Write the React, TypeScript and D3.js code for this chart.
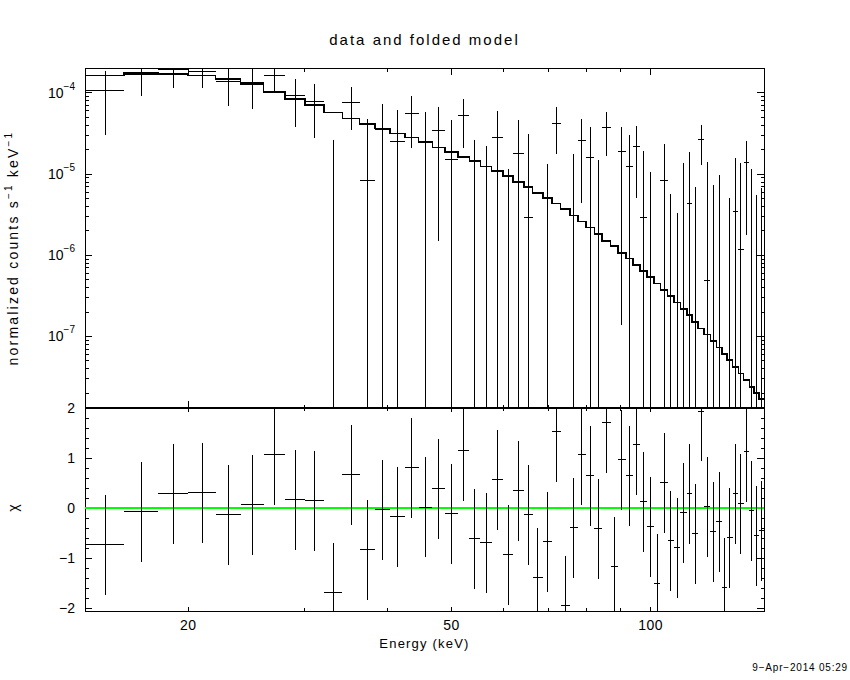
import React from "react";
import * as d3 from "d3";

// energy bin edges (keV), 59 bins
const binEdges = [
  14.0, 16.0, 18.0, 20.0, 22.0, 24.0, 26.0, 28.0, 30.0, 32.1, 34.2, 36.3, 38.3, 40.4, 42.5,
  44.6, 46.8, 48.9, 51.1, 53.2, 55.3, 57.5, 59.8, 62.0, 64.3, 66.3, 68.7, 70.9, 73.1, 75.5,
  77.6, 79.9, 82.2, 84.5, 87.0, 89.2, 91.7, 94.0, 96.3, 98.7, 101.2, 103.5, 106.1, 108.4,
  110.9, 113.4, 115.6, 118.0, 120.5, 123.1, 125.7, 128.3, 130.6, 133.0, 135.7, 138.2, 141.0,
  143.4, 145.8, 148.4,
];

// folded model, in units of 1e-4 counts s^-1 keV^-1
const modelRate = [
  1.65, 1.75, 1.71, 1.65, 1.48, 1.28, 1.03, 0.836, 0.706, 0.572, 0.483, 0.415, 0.363, 0.315,
  0.2815, 0.247, 0.212, 0.1876, 0.1614, 0.144, 0.1237, 0.1095, 0.0942, 0.0802, 0.069, 0.0587,
  0.0509, 0.0433, 0.037, 0.0308, 0.026, 0.0219, 0.0182, 0.01504, 0.01294, 0.01071, 0.00911,
  0.00755, 0.00637, 0.00537, 0.00448, 0.003715, 0.00313, 0.002616, 0.002168, 0.001828,
  0.001513, 0.001251, 0.001055, 0.000883, 0.00073, 0.000605, 0.00051, 0.000422, 0.000349,
  0.00029, 0.000239, 0.000202, 0.000169,
];

// data, same units
const dataRate = [
  1.08, 1.7, 1.93, 1.86, 1.39, 1.33, 1.65, 0.93, 0.78, -0.189, 0.77, 0.0825, 0.352, 0.254,
  0.562, 0.254, 0.345, 0.153, 0.531, -0.045, -0.09, 0.2847, -0.1755, 0.182, 0.0294, -0.317,
  -0.1166, 0.4236, -0.431, -0.0628, 0.2616, 0.1614, -0.0741, 0.378, -0.233, 0.1914, 0.1251,
  0.2207, 0.0289, -0.0538, -0.237, 0.0825, -0.097, -0.109, -0.0112, 0.0438, -0.0694, 0.269,
  0.00493, -0.063, -0.0352, -0.206, -0.0727, 0.0349, 0.0119, 0.1386, -0.0059, -0.0669, -0.055,
];

const dataErr = [
  0.78, 0.77, 0.77, 0.7, 0.7, 0.7, 0.58, 0.55, 0.5, 0.45, 0.42, 0.4, 0.37, 0.37, 0.35, 0.335,
  0.33, 0.316, 0.32, 0.31, 0.31, 0.31, 0.29, 0.283, 0.283, 0.27, 0.25, 0.245, 0.24, 0.24,
  0.217, 0.22, 0.225, 0.212, 0.21, 0.19, 0.179, 0.17, 0.164, 0.16, 0.16, 0.153, 0.154, 0.142,
  0.1486, 0.145, 0.139, 0.138, 0.1377, 0.136, 0.133, 0.13, 0.124, 0.1236, 0.1255, 0.121,
  0.1229, 0.122, 0.1226,
];

// residuals (chi), error bars are +-1
const chiValues = [
  -0.73, -0.07, 0.29, 0.31, -0.13, 0.07, 1.07, 0.17, 0.15, -1.69, 0.67, -0.83, -0.03, -0.17,
  0.81, 0.02, 0.39, -0.11, 1.15, -0.61, -0.69, 0.57, -0.93, 0.35, -0.13, -1.39, -0.67, 1.53,
  -1.95, -0.39, 1.07, 0.65, -0.41, 1.71, -1.17, 0.97, 0.65, 1.27, 0.13, -0.37, -1.51, 0.51,
  -0.65, -0.79, -0.09, 0.29, -0.51, 1.94, 0.03, -0.47, -0.27, -1.59, -0.59, 0.29, 0.09, 1.13,
  -0.05, -0.55, -0.45,
];

const xMajorTicks = [20, 50, 100];
const xMinorTicks = [30, 40, 60, 70, 80, 90];
const yMajorExp = [-4, -5, -6, -7];
const chiLabels = [2, 1, 0, -1, -2];

const UNIT = 1e-4;
const left = 85;
const right = 764;
const top = 68;
const mid = 408;
const bottom = 611;
const font = "'Liberation Sans', Arial, sans-serif";
const minus = (v: number) => (v < 0 ? "\u2212" + Math.abs(v) : String(v));

export default function App() {
  const x = d3.scaleLog().domain([13.96, 148.4]).range([left, right]);
  const y = d3.scaleLog().domain([1.315e-8, 2.03e-4]).range([mid, top]);
  const yChi = d3.scaleLinear().domain([-2.06, 2.0]).range([bottom, mid]);
  const [yMin, yMax] = y.domain();
  const [cMin, cMax] = yChi.domain();

  const bins = modelRate.map((m, i) => ({
    lo: binEdges[i],
    hi: binEdges[i + 1],
    c: (binEdges[i] + binEdges[i + 1]) / 2,
    model: m * UNIT,
    value: dataRate[i] * UNIT,
    err: dataErr[i] * UNIT,
    chi: chiValues[i],
  }));

  const modelPath = d3
    .line<[number, number]>()
    .x((d) => x(d[0]))
    .y((d) => y(d[1]))(
    bins.flatMap((b) => [
      [b.lo, b.model],
      [b.hi, b.model],
    ]) as [number, number][]
  );

  const yMinor = d3
    .range(-8, -3)
    .flatMap((e) => d3.range(2, 10).map((k) => k * Math.pow(10, e)))
    .filter((v) => v > yMin && v < yMax);
  const chiSteps = d3.range(-10, 11).map((k) => k / 5);

  const ticks: JSX.Element[] = [];
  let key = 0;
  const tick = (x1: number, y1: number, x2: number, y2: number) =>
    ticks.push(<line key={key++} x1={x1} y1={y1} x2={x2} y2={y2} />);

  // x ticks on both panels
  xMajorTicks.forEach((e) => {
    const px = x(e);
    tick(px, top, px, top + 7);
    tick(px, mid, px, mid - 7);
    tick(px, mid, px, mid + 4);
    tick(px, bottom, px, bottom - 4);
  });
  xMinorTicks.forEach((e) => {
    const px = x(e);
    tick(px, top, px, top + 3.5);
    tick(px, mid, px, mid - 3.5);
    tick(px, mid, px, mid + 3);
    tick(px, bottom, px, bottom - 3);
  });
  // y ticks, top panel
  yMajorExp.forEach((e) => {
    const py = y(Math.pow(10, e));
    tick(left, py, left + 7, py);
    tick(right, py, right - 7, py);
  });
  yMinor.forEach((v) => {
    const py = y(v);
    tick(left, py, left + 3.5, py);
    tick(right, py, right - 3.5, py);
  });
  // chi ticks
  chiSteps.forEach((v) => {
    const py = yChi(v);
    const len = Math.round(v * 5) % 5 === 0 ? 7 : 3.5;
    tick(left, py, left + len, py);
    tick(right, py, right - len, py);
  });

  return (
    <svg
      width={850}
      height={680}
      style={{ position: "absolute", left: 0, top: 0, background: "#fff" }}
      fontFamily={font}
    >
      <rect width={850} height={680} fill="#fff" />
      <text x={424.5} y={45} fontSize={15} letterSpacing={2} textAnchor="middle">
        data and folded model
      </text>

      <g stroke="#000" strokeWidth={1} shapeRendering="crispEdges" fill="none">
        <rect x={left} y={top} width={right - left} height={bottom - top} />
        <line x1={left} x2={right} y1={mid} y2={mid} strokeWidth={2} />
        {ticks}
      </g>

      {/* model histogram */}
      <path
        d={modelPath ?? ""}
        fill="none"
        stroke="#000"
        strokeWidth={1.6}
        shapeRendering="crispEdges"
      />

      {/* data crosses */}
      <g stroke="#000" strokeWidth={1} shapeRendering="crispEdges">
        {bins.map((b, i) => {
          const up = b.value + b.err;
          const dn = b.value - b.err;
          return (
            <g key={i}>
              {up > yMin && (
                <line
                  x1={x(b.c)}
                  x2={x(b.c)}
                  y1={y(Math.min(up, yMax))}
                  y2={y(Math.max(dn, yMin))}
                />
              )}
              {b.value > yMin && b.value < yMax && (
                <line x1={x(b.lo)} x2={x(b.hi)} y1={y(b.value)} y2={y(b.value)} />
              )}
            </g>
          );
        })}
      </g>

      {/* residuals */}
      <line
        x1={left}
        x2={right}
        y1={yChi(0)}
        y2={yChi(0)}
        stroke="#00ff00"
        strokeWidth={2}
        shapeRendering="crispEdges"
      />
      <g stroke="#000" strokeWidth={1} shapeRendering="crispEdges">
        {bins.map((b, i) => (
          <g key={i}>
            <line
              x1={x(b.c)}
              x2={x(b.c)}
              y1={yChi(Math.min(b.chi + 1, cMax))}
              y2={yChi(Math.max(b.chi - 1, cMin))}
            />
            <line x1={x(b.lo)} x2={x(b.hi)} y1={yChi(b.chi)} y2={yChi(b.chi)} />
          </g>
        ))}
      </g>

      {/* tick labels */}
      <g fontSize={14} fill="#000">
        {yMajorExp.map((e) => (
          <text key={e} x={75} y={y(Math.pow(10, e)) + 5} textAnchor="end">
            10
            <tspan dy={-8} fontSize={10}>
              {minus(e)}
            </tspan>
          </text>
        ))}
        {chiLabels.map((v) => (
          <text key={v} x={75} y={yChi(v) + 5} textAnchor="end">
            {minus(v)}
          </text>
        ))}
        {xMajorTicks.map((e) => (
          <text key={e} x={x(e)} y={630} textAnchor="middle" letterSpacing={0.5}>
            {e}
          </text>
        ))}
      </g>

      <text x={424.5} y={648} fontSize={13} letterSpacing={1.2} textAnchor="middle">
        Energy (keV)
      </text>
      <text
        transform={`translate(18, ${(top + mid) / 2 + 10}) rotate(-90)`}
        fontSize={14}
        letterSpacing={2.2}
        textAnchor="middle"
      >
        normalized counts s
        <tspan dy={-6} fontSize={10}>
          {"\u22121"}
        </tspan>
        <tspan dy={6}>{"  keV"}</tspan>
        <tspan dy={-6} fontSize={10}>
          {"\u22121"}
        </tspan>
      </text>
      <text
        transform={`translate(18, ${yChi(0)}) rotate(-90)`}
        fontSize={14}
        textAnchor="middle"
      >
        χ
      </text>
      <text x={848} y={671} fontSize={10} letterSpacing={0.8} textAnchor="end">
        9{"\u2212"}Apr{"\u2212"}2014 05:29
      </text>
    </svg>
  );
}
